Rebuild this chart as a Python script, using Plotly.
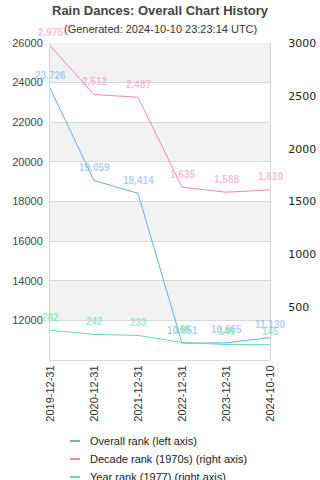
import plotly.graph_objects as go

dates = ["2019-12-31", "2020-12-31", "2021-12-31", "2022-12-31", "2023-12-31", "2024-10-10"]
overall_rank = [23726, 19059, 18414, 10851, 10865, 11130]
decade_rank = [2975, 2512, 2487, 1635, 1588, 1610]
year_rank = [282, 242, 233, 166, 146, 145]

left_ticks = [10000, 12000, 14000, 16000, 18000, 20000, 22000, 24000, 26000]
right_ticks = [500, 1000, 1500, 2000, 2500, 3000]
band_ranges = [(24000, 26000), (20000, 22000), (16000, 18000), (12000, 14000)]

FONT = "Liberation Sans, Arial, sans-serif"
BLUE = "#6aaaf0"
PINK = "#f285c0"
GREEN = "#66dea0"

series = [
    ("Overall rank (left axis)", overall_rank, BLUE, "rgba(106,170,240,0.55)", "y"),
    ("Decade rank (1970s) (right axis)", decade_rank, PINK, "rgba(242,133,192,0.55)", "y2"),
    ("Year rank (1977) (right axis)", year_rank, GREEN, "rgba(102,222,160,0.6)", "y2"),
]

# plot area in pixels: x 50..270, y 43..360
def px_x(px):
    return (px - 50) / 220.0

def px_y(py):
    return (360 - py) / 317.0

fig = go.Figure()
annotations = []
shapes = []
for lo, hi in band_ranges:
    shapes.append(dict(type="rect", xref="paper", yref="y", x0=0, x1=1, y0=lo, y1=hi,
                       fillcolor="#f2f2f2", line=dict(width=0), layer="below"))

for i, (name, vals, col, lblcol, ax) in enumerate(series):
    fig.add_trace(go.Scatter(x=dates, y=vals, name=name, mode="lines",
                             line=dict(color=col, width=1), yaxis=ax, showlegend=False))
    for d, v in zip(dates, vals):
        annotations.append(dict(x=d, y=v, xref="x", yref=ax, text=f"<b>{v:,}</b>",
                                showarrow=False, yshift=13, xanchor="center", yanchor="middle",
                                font=dict(family=FONT, size=10, color=lblcol)))
    # manual legend entry
    ly = 441 + 18 * i
    shapes.append(dict(type="line", xref="paper", yref="paper", x0=px_x(70), x1=px_x(80),
                       y0=px_y(ly), y1=px_y(ly), line=dict(color=col, width=2)))
    annotations.append(dict(text=name, xref="paper", yref="paper", x=px_x(88), y=px_y(ly),
                            xanchor="left", yanchor="middle", showarrow=False,
                            font=dict(family=FONT, size=11, color="#222")))

annotations += [
    dict(text="<b>Rain Dances: Overall Chart History</b>", xref="paper", yref="paper",
         x=0.5, y=px_y(11), xanchor="center", yanchor="middle", showarrow=False,
         font=dict(family=FONT, size=13, color="#444")),
    dict(text="(Generated: 2024-10-10 23:23:14 UTC)", xref="paper", yref="paper",
         x=0.5, y=px_y(29), xanchor="center", yanchor="middle", showarrow=False,
         font=dict(family=FONT, size=11, color="#333")),
]

fig.update_layout(
    width=320, height=480,
    margin=dict(l=50, r=50, t=43, b=120, autoexpand=False),
    paper_bgcolor="white", plot_bgcolor="white",
    font=dict(family=FONT, size=11, color="#333"),
    showlegend=False,
    shapes=shapes,
    xaxis=dict(type="category", range=[0, 5], tickangle=-90, showgrid=False,
               showline=True, linecolor="#d8d8d8", linewidth=1, ticks="",
               tickfont=dict(family=FONT, size=11, color="#333"), zeroline=False,
               automargin=False),
    yaxis=dict(range=[10000, 26000], tickvals=left_ticks,
               ticktext=["" if v == 10000 else str(v) for v in left_ticks],
               showgrid=True, gridcolor="#d9d9d9", gridwidth=1,
               showline=True, linecolor="#d8d8d8", zeroline=False, ticks="",
               tickfont=dict(family=FONT, size=11, color="#444"), ticklabelstandoff=4,
               automargin=False),
    yaxis2=dict(range=[0, 3000], tickvals=right_ticks, overlaying="y", side="right",
                showgrid=False, showline=True, linecolor="#d8d8d8", zeroline=False,
                ticks="", tickfont=dict(family="DejaVu Sans, sans-serif", size=11, color="#222"),
                ticklabelstandoff=15, automargin=False),
    annotations=annotations,
)

fig.write_html("out.html")
